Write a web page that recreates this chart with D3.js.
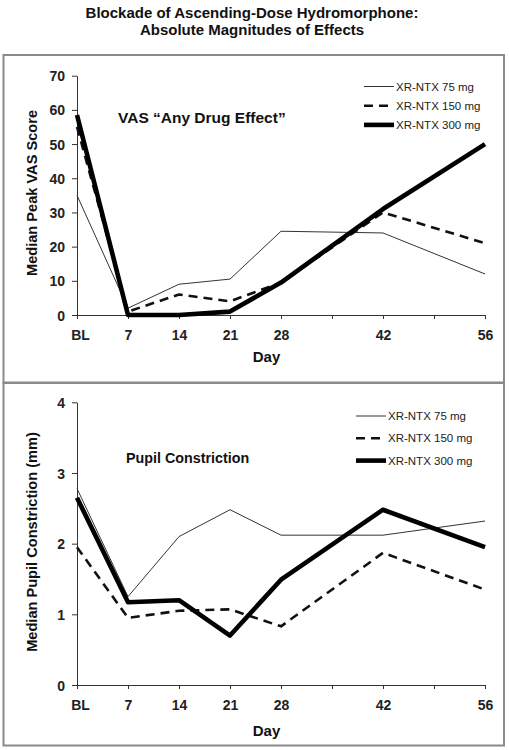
<!DOCTYPE html>
<html>
<head>
<meta charset="utf-8">
<script src="https://cdn.jsdelivr.net/npm/d3@7"></script>
<style>
html,body{margin:0;padding:0;background:#fff;}
svg{display:block;}
</style>
</head>
<body>
<svg id="chart" width="509" height="750"></svg>
<script>
// ---- data ----
const days = [0, 7, 14, 21, 28, 42, 56];
const tickDays = [0, 7, 14, 21, 28, 35, 42, 49, 56];
const tickLabels = ["BL", "7", "14", "21", "28", "", "42", "", "56"];
const seriesNames = ["XR-NTX 75 mg", "XR-NTX 150 mg", "XR-NTX 300 mg"];
const vas75 = [35, 2, 9, 10.5, 24.5, 24, 12];
const vas150 = [55, 1, 6, 4, 9.5, 30, 21];
const vas300 = [58.5, 0, 0, 1, 9.5, 31, 50];
const vasTicks = [0, 10, 20, 30, 40, 50, 60, 70];
const pupil75 = [2.78, 1.25, 2.1, 2.48, 2.12, 2.12, 2.32];
const pupil150 = [1.95, 0.95, 1.05, 1.07, 0.83, 1.87, 1.35];
const pupil300 = [2.65, 1.17, 1.2, 0.7, 1.49, 2.48, 1.95];
const pupilTicks = [0, 1, 2, 3, 4];
const chartTitle = ["Blockade of Ascending-Dose Hydromorphone:", "Absolute Magnitudes of Effects"];

// ---- styles ----
const lineStyles = [
  {width: 1, dash: null, color: "#333"},
  {width: 2.6, dash: "9,6", color: "#111"},
  {width: 4.6, dash: null, color: "#000"}
];
const boldFont = "'Liberation Sans', Arial, sans-serif";

const svg = d3.select("#chart");

// title
svg.selectAll("text.title").data(chartTitle).enter().append("text")
  .attr("class", "title")
  .attr("x", 252).attr("y", (d, i) => 17.5 + i * 17)
  .attr("text-anchor", "middle")
  .style("font-family", boldFont).style("font-weight", "bold")
  .style("font-size", "15px").style("fill", "#111")
  .text(d => d);

function panel(opt) {
  const g = svg.append("g");
  // frame
  g.append("rect").attr("x", 3.5).attr("y", opt.boxTop).attr("width", 500.5).attr("height", opt.boxH)
    .attr("fill", "none").attr("stroke", "#8a8a8a").attr("stroke-width", 2);

  const x = d3.scaleLinear().domain([0, 56]).range([77, 485]);
  const y = d3.scaleLinear().domain(opt.domain).range([opt.y0, opt.y1]);

  const yAxis = g.append("g").attr("transform", "translate(77,0)")
    .call(d3.axisLeft(y).tickValues(opt.ticks).tickSize(5).tickPadding(7).tickSizeOuter(0)
      .tickFormat(d3.format("d")));
  const xAxis = g.append("g").attr("transform", `translate(0,${opt.y0})`)
    .call(d3.axisBottom(x).tickValues(tickDays).tickSize(4).tickSizeOuter(0)
      .tickFormat((d, i) => tickLabels[i]));
  [xAxis, yAxis].forEach(a => {
    a.select(".domain").attr("stroke", "#333").attr("stroke-width", 1);
    a.selectAll(".tick line").attr("stroke", "#333");
    a.selectAll("text").style("font-family", boldFont).style("font-weight", "bold")
      .style("font-size", "14px").attr("fill", "#222");
  });
  xAxis.selectAll("text").attr("y", 15).attr("dy", "0.71em");
  xAxis.selectAll(".tick").filter(d => d === 0).select("text").attr("dx", 3);
  yAxis.selectAll("text").attr("dy", "0.36em");

  // axis titles
  g.append("text").attr("x", 266.5).attr("y", opt.y0 + opt.dayOff)
    .attr("text-anchor", "middle")
    .style("font-family", boldFont).style("font-weight", "bold").style("font-size", "15px")
    .attr("fill", "#111").text("Day");
  g.append("text")
    .attr("transform", `translate(37,${opt.ylabCy}) rotate(-90)`)
    .attr("text-anchor", "middle")
    .style("font-family", boldFont).style("font-weight", "bold").style("font-size", "14.6px")
    .attr("fill", "#111").text(opt.ylabel);
  // panel title
  g.append("text").attr("x", opt.titleX).attr("y", opt.titleY)
    .style("font-family", boldFont).style("font-weight", "bold").style("font-size", opt.titleSize)
    .attr("fill", "#111").text(opt.title);

  // lines
  const line = d3.line().x((d, i) => x(days[i])).y(d => y(d));
  opt.series.forEach((s, k) => {
    const st = lineStyles[k];
    g.append("path").datum(s).attr("d", line)
      .attr("fill", "none").attr("stroke", st.color).attr("stroke-width", st.width)
      .attr("stroke-dasharray", st.dash).attr("stroke-linejoin", "round");
  });

  // legend
  seriesNames.forEach((n, k) => {
    const st = lineStyles[k];
    const ly = opt.legY + k * opt.legStep;
    g.append("line").attr("x1", opt.legX).attr("x2", opt.legX + 30).attr("y1", ly).attr("y2", ly)
      .attr("stroke", st.color).attr("stroke-width", st.width).attr("stroke-dasharray", st.dash);
    g.append("text").attr("x", opt.legX + 32).attr("y", ly).attr("dy", "0.35em")
      .style("font-family", "'Liberation Sans', Arial, sans-serif").style("font-size", "11.5px")
      .attr("fill", "#222").text(n);
  });
}

panel({
  boxTop: 55, boxH: 327.5,
  domain: [0, 70], y0: 315, y1: 75.7, ticks: vasTicks,
  ylabel: "Median Peak VAS Score", ylabCy: 193, dayOff: 47,
  title: "VAS \u201CAny Drug Effect\u201D", titleX: 118, titleY: 123.3, titleSize: "15.5px",
  series: [vas75, vas150, vas300],
  legX: 364, legY: 86.5, legStep: 19.2
});
panel({
  boxTop: 383, boxH: 362.5,
  domain: [0, 4], y0: 685, y1: 402.3, ticks: pupilTicks,
  ylabel: "Median Pupil Constriction (mm)", ylabCy: 542, dayOff: 51,
  title: "Pupil Constriction", titleX: 126, titleY: 463, titleSize: "14.3px",
  series: [pupil75, pupil150, pupil300],
  legX: 356, legY: 416, legStep: 22.3
});
</script>
</body>
</html>
